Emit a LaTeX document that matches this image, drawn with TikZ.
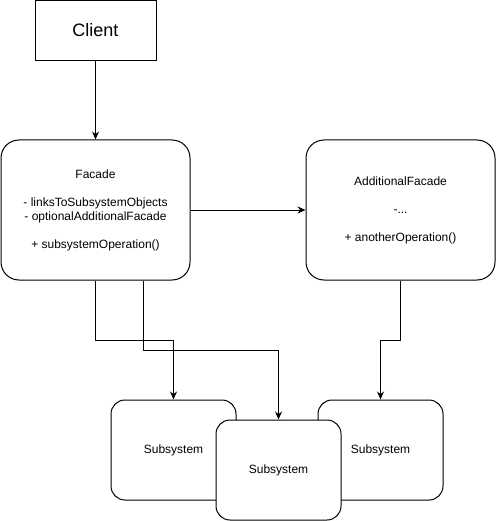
\documentclass[tikz,border=0pt]{standalone}
\usepackage{fontspec}
\setmainfont{Liberation Sans}
\usetikzlibrary{arrows.meta}
\begin{document}
\begin{tikzpicture}[x=1pt,y=-1pt,line width=1pt,
  box/.style={draw,fill=white,minimum width=121pt,minimum height=60pt,font=\fontsize{18}{20}\selectfont},
  facadebox/.style={draw,fill=white,rounded corners=18pt,minimum width=189pt,minimum height=140pt,align=center,font=\fontsize{12}{14}\selectfont},
  subbox/.style={draw,fill=white,rounded corners=14pt,minimum width=125pt,minimum height=100pt,font=\fontsize{12}{14}\selectfont},
  link/.style={-{Stealth[length=8pt,width=7pt]}}]
\useasboundingbox (0,0) rectangle (496,521);
\node[box] (client) at (95.5,30.5) {Client};
\node[facadebox] (facade) at (95.5,210) {Facade\\[14pt]- linksToSubsystemObjects\\- optionalAdditionalFacade\\[14pt]+ subsystemOperation()};
\node[facadebox] (addfacade) at (400.5,210) {AdditionalFacade\\[14pt]-...\\[14pt]+ anotherOperation()};
% subsystems, the middle one on top
\node[subbox] (subA) at (173.5,450) {Subsystem};
\node[subbox] (subC) at (380.5,450) {Subsystem};
\node[subbox] (subB) at (278.5,470) {Subsystem};
\draw[link] (client) -- (facade);
\draw[link] (facade) -- (addfacade);
\draw[link] (facade.south) -- ++(0,60) -| (subA.north);
\draw[link] ([xshift=48pt]facade.south) -- ++(0,70) -| (subB.north);
\draw[link] (addfacade.south) -- ++(0,60) -| (subC.north);
\end{tikzpicture}
\end{document}
